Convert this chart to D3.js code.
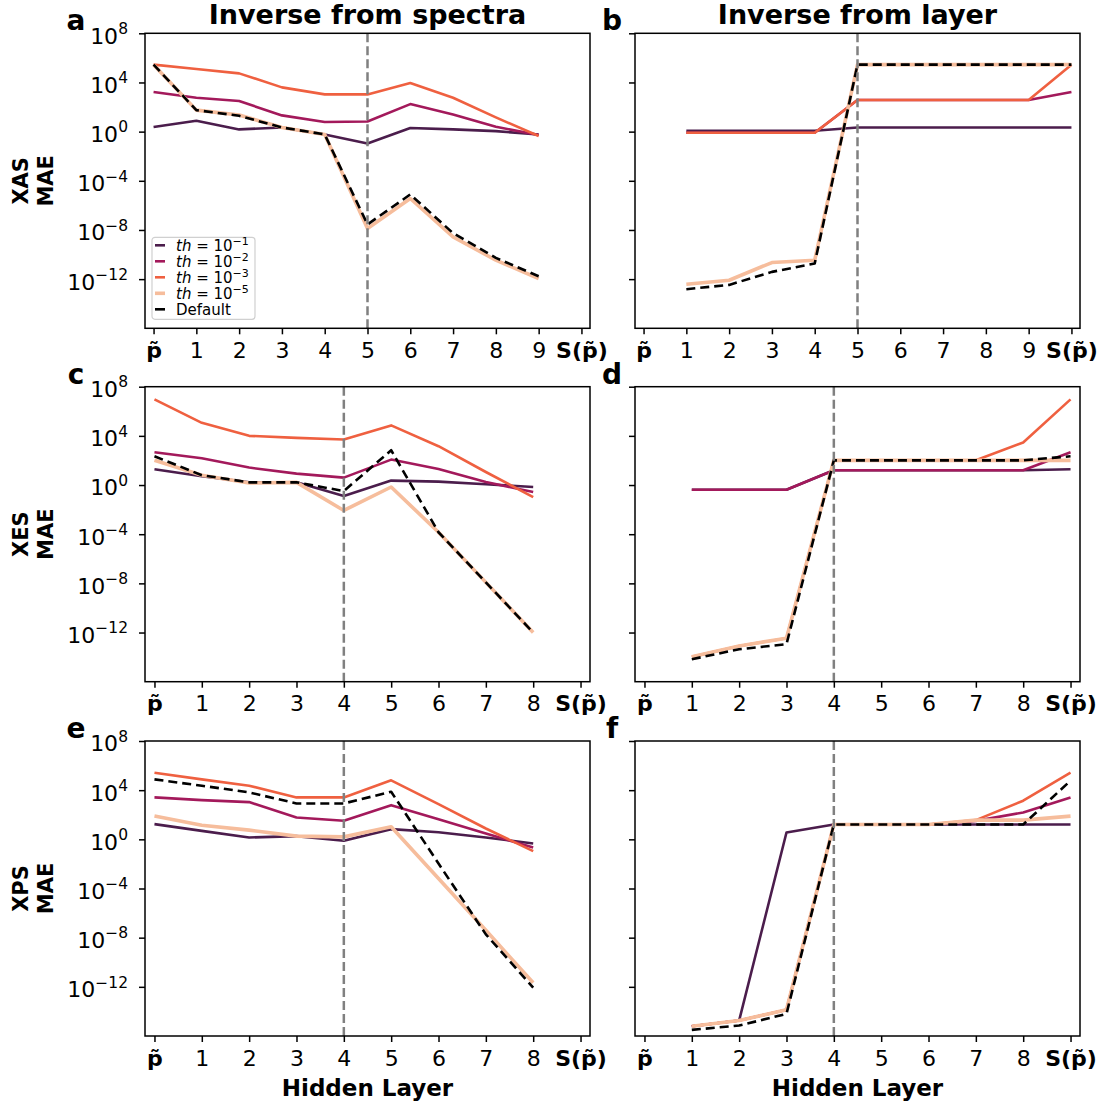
<!DOCTYPE html>
<html>
<head>
<meta charset="utf-8">
<script src="https://cdn.jsdelivr.net/npm/d3@7"></script>
<style>
  body { margin: 0; background: #fff; }
  svg { display: block; font-family: "DejaVu Sans", sans-serif; }
</style>
</head>
<body>
<div id="chart"></div>
<script>
const width = 1106;
const height = 1103;

// legend / series
const legendExps = ["\u22121", "\u22122", "\u22123", "\u22125"];
const lineColors = ["#4b1d4c", "#a3195b", "#ef6040", "#f6bd9c", "#000000"];
const lineWidths = [2.6, 2.6, 2.6, 3.6, 2.6];

// y ticks
const yTickValues = [1e8, 1e4, 1e0, 1e-4, 1e-8, 1e-12];
const yTickExps = ["8", "4", "0", "\u22124", "\u22128", "\u221212"];

// x tick labels
const xLabelsXAS = ["p\u0303", "1", "2", "3", "4", "5", "6", "7", "8", "9", "S(p\u0303)"];
const xLabelsShort = ["p\u0303", "1", "2", "3", "4", "5", "6", "7", "8", "S(p\u0303)"];

const rowNames = ["XAS", "XES", "XPS"];
const colTitles = ["Inverse from spectra", "Inverse from layer"];
const cutoffs = [5, 4, 4];

// values are log10(MAE), one per hidden layer position
// a: XAS, inverse from spectra (p~ .. 9)
const aTh1 = [0.37, 0.88, 0.18, 0.34, -0.23, -0.96, 0.29, 0.18, 0.04, -0.23];
const aTh2 = [3.22, 2.76, 2.49, 1.32, 0.78, 0.83, 2.24, 1.4, 0.4, -0.28];
const aTh3 = [5.45, 5.1, 4.74, 3.6, 3.03, 3.03, 3.95, 2.76, 1.16, -0.36];
const aTh5 = [5.45, 1.75, 1.35, 0.34, -0.23, -7.88, -5.44, -8.56, -10.46, -11.95];
const aDef = [5.45, 1.75, 1.29, 0.34, -0.23, -7.55, -5.11, -8.26, -10.27, -11.76];

// b: XAS, inverse from layer (1 .. S)
const bTh1 = [0.07, 0.07, 0.07, 0.07, 0.34, 0.34, 0.34, 0.34, 0.34, 0.34];
const bTh2 = [-0.09, -0.09, -0.09, -0.09, 2.57, 2.57, 2.57, 2.57, 2.57, 3.22];
const bTh3 = [-0.09, -0.09, -0.09, -0.09, 2.57, 2.57, 2.57, 2.57, 2.57, 5.45];
const bTh5 = [-12.42, -12.09, -10.65, -10.46, 5.45, 5.45, 5.45, 5.45, 5.45, 5.45];
const bDef = [-12.82, -12.47, -11.41, -10.73, 5.45, 5.45, 5.45, 5.45, 5.45, 5.45];

// c: XES, inverse from spectra (p~ .. 8)
const cTh1 = [1.28, 0.71, 0.22, 0.22, -0.9, 0.36, 0.28, 0.06, -0.16];
const cTh2 = [2.67, 2.18, 1.42, 0.93, 0.6, 2.07, 1.31, 0.24, -0.57];
const cTh3 = [6.97, 5.06, 4.0, 3.84, 3.7, 4.85, 3.16, 1.06, -0.98];
const cTh5 = [2.02, 0.8, 0.16, 0.22, -2.07, -0.16, -3.84, -7.92, -12.0];
const cDef = [2.34, 0.8, 0.22, 0.22, -0.49, 2.83, -3.84, -7.92, -12.0];

// d: XES, inverse from layer (1 .. S)
const dTh1 = [-0.38, -0.38, -0.38, 1.2, 1.2, 1.2, 1.2, 1.2, 1.28];
const dTh2 = [-0.38, -0.38, -0.38, 1.2, 1.2, 1.2, 1.2, 1.2, 2.67];
const dTh3 = [-13.98, -13.09, -12.46, 2.01, 2.01, 2.01, 2.01, 3.46, 6.97];
const dTh5 = [-13.98, -13.09, -12.46, 2.01, 2.01, 2.01, 2.01, 2.01, 2.01];
const dDef = [-14.17, -13.36, -12.95, 2.01, 2.01, 2.01, 2.01, 2.01, 2.34];

// e: XPS, inverse from spectra (p~ .. 8)
const eTh1 = [1.24, 0.69, 0.15, 0.26, -0.12, 0.83, 0.58, 0.15, -0.34];
const eTh2 = [3.41, 3.19, 3.03, 1.78, 1.51, 2.78, 1.64, 0.48, -0.67];
const eTh3 = [5.42, 4.88, 4.36, 3.41, 3.41, 4.8, 2.87, 0.88, -0.96];
const eTh5 = [1.89, 1.15, 0.75, 0.26, 0.2, 1.02, -3.19, -7.4, -11.67];
const eDef = [4.88, 4.36, 3.82, 2.92, 2.92, 3.87, -1.97, -7.73, -12.07];

// f: XPS, inverse from layer (1 .. S)
const fTh1 = [-15.2, -14.74, 0.56, 1.21, 1.21, 1.21, 1.21, 1.21, 1.21];
const fTh2 = [-15.2, -14.74, -13.87, 1.21, 1.21, 1.21, 1.5, 2.19, 3.41];
const fTh3 = [-15.2, -14.74, -13.87, 1.21, 1.21, 1.21, 1.56, 3.14, 5.42];
const fTh5 = [-15.2, -14.74, -13.87, 1.21, 1.21, 1.21, 1.56, 1.56, 1.89];
const fDef = [-15.5, -15.15, -14.2, 1.21, 1.21, 1.21, 1.21, 1.21, 4.77];

const panels = [
    { id: "a", row: 0, col: 0, labels: xLabelsXAS, start: 0, series: [aTh1, aTh2, aTh3, aTh5, aDef] },
    { id: "b", row: 0, col: 1, labels: xLabelsXAS, start: 1, series: [bTh1, bTh2, bTh3, bTh5, bDef] },
    { id: "c", row: 1, col: 0, labels: xLabelsShort, start: 0, series: [cTh1, cTh2, cTh3, cTh5, cDef] },
    { id: "d", row: 1, col: 1, labels: xLabelsShort, start: 1, series: [dTh1, dTh2, dTh3, dTh5, dDef] },
    { id: "e", row: 2, col: 0, labels: xLabelsShort, start: 0, series: [eTh1, eTh2, eTh3, eTh5, eDef] },
    { id: "f", row: 2, col: 1, labels: xLabelsShort, start: 1, series: [fTh1, fTh2, fTh3, fTh5, fDef] }
];

// layout
const colLeft = [145, 635];
const rowTop = [33.3, 386.7, 741];
const axW = 445;
const axH = 295;

const svg = d3.select("#chart")
    .append("svg")
    .attr("width", width)
    .attr("height", height);

panels.forEach(p => {
    const left = colLeft[p.col];
    const top = rowTop[p.row];
    const n = p.labels.length;

    const x = d3.scaleLinear()
        .domain([-0.2, n - 1 + 0.2])
        .range([left, left + axW]);

    const y = d3.scaleLog()
        .domain([1e-16, 1e8])
        .range([top + axH, top]);

    const g = svg.append("g").attr("id", "panel-" + p.id);

    // x axis
    const xAxis = d3.axisBottom(x)
        .tickValues(d3.range(n))
        .tickFormat(i => p.labels[i])
        .tickSize(6)
        .tickSizeOuter(0)
        .tickPadding(8);

    const gx = g.append("g")
        .attr("transform", `translate(0, ${top + axH})`)
        .call(xAxis);
    gx.select(".domain").remove();
    gx.selectAll(".tick line").attr("stroke", "#000").attr("stroke-width", 1.5);
    gx.selectAll(".tick text")
        .attr("font-family", "DejaVu Sans")
        .attr("font-size", 22)
        .attr("fill", "#000")
        .attr("font-weight", (d, i) => /^\d+$/.test(p.labels[i]) ? "normal" : "bold");

    // y axis
    const yAxis = d3.axisLeft(y)
        .tickValues(yTickValues)
        .tickSize(6)
        .tickSizeOuter(0)
        .tickPadding(11)
        .tickFormat(() => "");

    const gy = g.append("g")
        .attr("transform", `translate(${left}, 0)`)
        .call(yAxis);
    gy.select(".domain").remove();
    gy.selectAll(".tick line").attr("stroke", "#000").attr("stroke-width", 1.5);

    if (p.col === 0) {
        gy.selectAll(".tick text")
            .attr("font-family", "DejaVu Sans")
            .attr("font-size", 22)
            .attr("fill", "#000")
            .attr("dy", "0.45em")
            .each(function (d, i) {
                const t = d3.select(this);
                t.append("tspan").text("10");
                t.append("tspan")
                    .attr("dy", "-0.62em")
                    .attr("font-size", 15.5)
                    .text(yTickExps[i]);
            });
    }

    // lines
    const line = d3.line()
        .x((d, i) => x(p.start + i))
        .y(d => y(Math.pow(10, d)));

    p.series.forEach((s, k) => {
        g.append("path")
            .datum(s)
            .attr("d", line)
            .attr("fill", "none")
            .attr("stroke", lineColors[k])
            .attr("stroke-width", lineWidths[k])
            .attr("stroke-linejoin", "round")
            .attr("stroke-dasharray", k === 4 ? "9,5" : null);
    });

    // cut-off layer
    const cut = cutoffs[p.row];
    g.append("line")
        .attr("x1", x(cut)).attr("x2", x(cut))
        .attr("y1", top).attr("y2", top + axH)
        .attr("stroke", "#808080")
        .attr("stroke-width", 2.5)
        .attr("stroke-dasharray", "9,4");

    // frame
    g.append("rect")
        .attr("x", left).attr("y", top)
        .attr("width", axW).attr("height", axH)
        .attr("fill", "none")
        .attr("stroke", "#000")
        .attr("stroke-width", 1.5);

    // panel letter
    g.append("text")
        .attr("x", p.col === 0 ? 76 : 612)
        .attr("y", top - 3)
        .attr("text-anchor", "middle")
        .attr("font-size", 28)
        .attr("font-weight", "bold")
        .text(p.id);

    if (p.row === 0) {
        g.append("text")
            .attr("x", left + axW / 2)
            .attr("y", 24)
            .attr("text-anchor", "middle")
            .attr("font-size", 27)
            .attr("font-weight", "bold")
            .text(colTitles[p.col]);
    }

    if (p.row === 2) {
        g.append("text")
            .attr("x", left + axW / 2)
            .attr("y", 1096)
            .attr("text-anchor", "middle")
            .attr("font-size", 23)
            .attr("font-weight", "bold")
            .text("Hidden Layer");
    }

    if (p.col === 0) {
        const yl = g.append("text")
            .attr("transform", `translate(32, ${top + axH / 2}) rotate(-90)`)
            .attr("text-anchor", "middle")
            .attr("font-size", 21)
            .attr("font-weight", "bold");
        yl.append("tspan").attr("x", 0).attr("dy", "-0.2em").text(rowNames[p.row]);
        yl.append("tspan").attr("x", 0).attr("dy", "1.2em").text("MAE");
    }

    // legend
    if (p.id === "a") {
        const lg = g.append("g").attr("transform", `translate(${left + 7}, ${top + 204})`);
        lg.append("rect")
            .attr("width", 103).attr("height", 82)
            .attr("rx", 3)
            .attr("fill", "#fff")
            .attr("fill-opacity", 0.8)
            .attr("stroke", "#d0d0d0")
            .attr("stroke-width", 1.2);
        const labels = legendExps.concat(["Default"]);
        labels.forEach((lab, k) => {
            const yy = 8 + k * 16;
            lg.append("line")
                .attr("x1", 3).attr("x2", 13)
                .attr("y1", yy).attr("y2", yy)
                .attr("stroke", lineColors[k])
                .attr("stroke-width", lineWidths[k]);
            const t = lg.append("text")
                .attr("x", 24).attr("y", yy + 5.5)
                .attr("font-size", 15);
            if (k < 4) {
                t.append("tspan").attr("font-style", "italic").text("th");
                t.append("tspan").text(" = 10");
                t.append("tspan").attr("dy", "-0.5em").attr("font-size", 11).text(lab);
            } else {
                t.text(lab);
            }
        });
    }
});
</script>
</body>
</html>
